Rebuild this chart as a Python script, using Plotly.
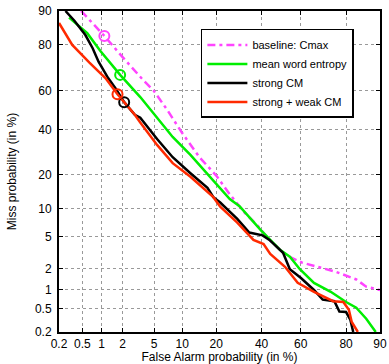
import plotly.graph_objects as go
from statistics import NormalDist

# ---- data (percent) ----
tick_vals_pct = [0.2, 0.5, 1, 2, 5, 10, 20, 40, 60, 80, 90]
tick_labels = ["0.2", "0.5", "1", "2", "5", "10", "20", "40", "60", "80", "90"]

cmax_fa = [0.48, 1.1, 2, 3.7, 4.9, 7, 10, 14.5, 20.3, 25.3, 31.5, 38, 44, 52.5, 60.5, 70.5, 76, 83.5, 86.5, 90]
cmax_miss = [90, 83.1, 75.3, 65, 60, 50, 38.2, 27, 19.4, 13.7, 9.3, 6.7, 4.6, 3.0, 2.4, 2.0, 1.8, 1.4, 1.1, 0.98]

ent_fa = [0.3, 0.6, 0.96, 1.85, 3.4, 5.4, 8, 12, 17, 21.5, 25.3, 29.5, 34.5, 39.5, 44.4, 49.4, 54.5, 59.6, 66.5, 74, 80, 83.5, 86.5, 89]
ent_miss = [88.4, 84, 77.7, 67.5, 56.6, 45.9, 36.3, 28, 20.2, 15.3, 12.4, 10.6, 7.9, 6, 4.6, 3.5, 2.85, 1.95, 1.25, 0.92, 0.64, 0.52, 0.34, 0.2]

strong_fa = [0.26, 0.37, 0.56, 0.73, 0.9, 1.25, 1.6, 2.1, 2.9, 3.4, 5.4, 8, 12, 17, 19, 21.5, 28.5, 34, 40.5, 44, 51, 54.5, 60, 66.5, 70.5, 75.5, 77.5, 80, 81.5, 82.5]
strong_miss = [90, 87.6, 83.4, 78.8, 73.4, 66, 61, 54, 47.5, 46, 35.3, 27, 20.6, 15.6, 12.9, 11.5, 7.9, 5.6, 5.2, 4.6, 3.2, 1.95, 1.48, 0.98, 0.7, 0.66, 0.45, 0.44, 0.33, 0.2]

sw_fa = [0.2, 0.34, 0.65, 1.14, 1.7, 2.9, 3.4, 5.4, 8, 12, 19, 21.5, 28.5, 36, 41, 44.4, 52, 58.5, 66.5, 68, 75, 79, 81, 82, 84]
sw_miss = [87, 80, 73, 66, 58, 47.5, 43.5, 32.5, 24.5, 19.3, 12.9, 10.5, 7.2, 4.6, 4.1, 3.1, 2.1, 1.25, 0.92, 0.87, 0.66, 0.64, 0.48, 0.3, 0.2]

# operating points (open circles)
op_fa = [1.1, 1.85, 2.1, 1.7]
op_miss = [83.1, 67.5, 54, 58]

names = ["baseline: Cmax", "mean word entropy", "strong CM", "strong + weak CM"]
colors = ["#ff44ff", "#00ee00", "#000000", "#ff2a00"]

nd = NormalDist()
def probit(pcts):
    return [nd.inv_cdf(p / 100.0) for p in pcts]

fig = go.Figure()
series = [(cmax_fa, cmax_miss), (ent_fa, ent_miss), (strong_fa, strong_miss), (sw_fa, sw_miss)]
for i, ((fa, miss), name, col) in enumerate(zip(series, names, colors)):
    fig.add_trace(go.Scatter(
        x=probit(fa), y=probit(miss), mode="lines", name=name,
        line=dict(color=col, width=2.5, dash="8px,4px,3px,4px" if i == 0 else "solid"),
    ))
for i, col in enumerate(colors):
    fig.add_trace(go.Scatter(
        x=probit([op_fa[i]]), y=probit([op_miss[i]]), mode="markers", showlegend=False,
        marker=dict(symbol="circle-open", size=10, color=col, line=dict(width=2, color=col)),
    ))

tv = probit(tick_vals_pct)
axis_common = dict(
    tickmode="array", tickvals=tv, ticktext=tick_labels,
    showgrid=True, gridcolor="#999999", griddash="dot", gridwidth=1,
    showline=True, linecolor="black", linewidth=2, mirror="allticks",
    ticks="inside", ticklen=4, tickcolor="black", zeroline=False,
    tickfont=dict(size=12, color="black"), automargin=False,
)
fig.update_xaxes(range=[probit([0.2])[0], probit([90])[0]], **axis_common,
                 title=dict(text="False Alarm probability (in %)", font=dict(size=12, color="black"), standoff=2))
fig.update_yaxes(range=[probit([0.2])[0], probit([90])[0]], **axis_common, ticklabelstandoff=3,
                 title=dict(text="Miss probability (in %)", font=dict(size=12, color="black"), standoff=16))

fig.update_layout(
    width=389, height=364,
    margin=dict(l=59, r=9, t=11, b=32),
    paper_bgcolor="white", plot_bgcolor="white",
    font=dict(family="Liberation Sans, Arial, sans-serif", color="black"),
    legend=dict(x=0.442, y=0.944, xanchor="left", yanchor="top",
                bgcolor="white", bordercolor="black", borderwidth=1.5,
                font=dict(size=11), itemwidth=40, tracegroupgap=0),
    showlegend=True,
)
fig.write_html("out.html", config={"displayModeBar": False},
               post_script="document.body.style.margin='0';document.body.style.overflow='hidden';")
